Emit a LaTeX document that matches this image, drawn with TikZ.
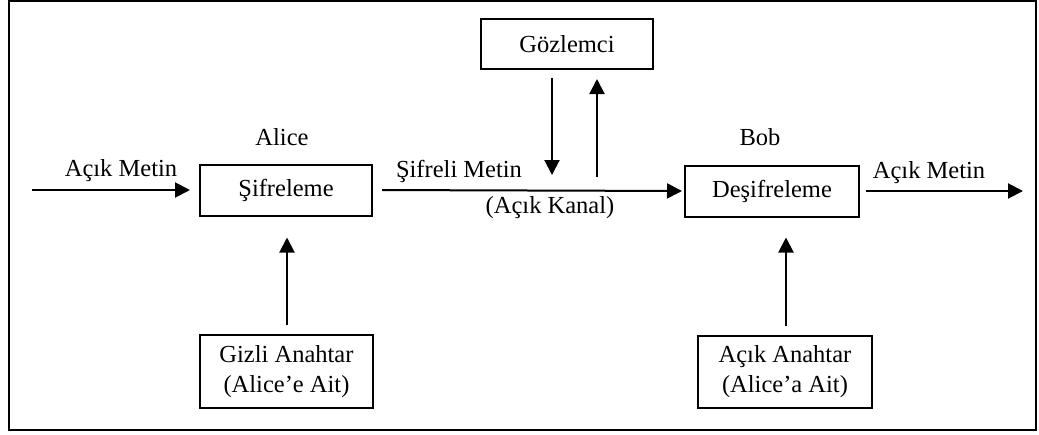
\documentclass[tikz,border=0pt]{standalone}
\usepackage{fontspec}
\setmainfont{Liberation Serif}
\usetikzlibrary{arrows.meta}
\begin{document}
\begin{tikzpicture}[x=1pt,y=-1pt,
  every node/.style={font=\fontsize{24.5}{30}\selectfont},
  box/.style={draw,line width=2pt,inner sep=0pt,align=center},
  conn/.style={line width=2pt,-{Triangle[length=15pt,width=15pt]}},
  lbl/.style={anchor=base,inner sep=0pt}]
  \useasboundingbox (0,0) rectangle (1039,434);
  % outer frame
  \draw[line width=2.4pt] (9,1) rectangle (1036,430);

  % boxes
  \node[box,minimum width=172pt,minimum height=51pt] (enc) at (286,190) {Şifreleme};
  \node[box,minimum width=174pt,minimum height=51pt] (dec) at (772,191) {Deşifreleme};
  \node[box,minimum width=172pt,minimum height=50pt] (obs) at (567,44) {Gözlemci};
  \node[box,minimum width=173pt,minimum height=73pt] (sk) at (286.5,371.5) {Gizli Anahtar\\(Alice’e Ait)};
  \node[box,minimum width=174pt,minimum height=72pt] (pk) at (785,372) {Açık Anahtar\\(Alice’a Ait)};

  % free ends and points on the channel
  \coordinate (in) at (32,190);
  \coordinate (out) at (1023,191);
  \coordinate (tap) at (552,190);
  \coordinate (inj) at (597,190);

  % connectors
  \draw[conn,shorten >=9pt] (in) -- (enc.west);
  \draw[conn,shorten <=9pt,shorten >=2pt] (enc.east) -- (dec.west);
  \draw[conn,shorten <=6pt] (dec.east) -- (out);
  \draw[conn,shorten <=8pt,shorten >=15pt] (obs.south -| tap) -- (tap);
  \draw[conn,shorten <=13pt,shorten >=9pt] (inj) -- (obs.south -| inj);
  \draw[conn,shorten <=9pt,shorten >=21pt] (sk.north -| 287,0) -- (enc.south -| 287,0);
  \draw[conn,shorten <=9pt,shorten >=20pt] (pk.north -| 786,0) -- (dec.south -| 786,0);

  % labels
  \node[lbl] (l1) at (121,176) {Açık Metin};
  \node[lbl] (l2) at (282,145) {Alice};
  \node[lbl] (l3) at (459,177) {Şifreli Metin};
  \node[lbl] (l4) at (550,213) {(Açık Kanal)};
  \node[lbl] (l5) at (760,145) {Bob};
  \node[lbl] (l6) at (929,178) {Açık Metin};
\end{tikzpicture}
\end{document}
